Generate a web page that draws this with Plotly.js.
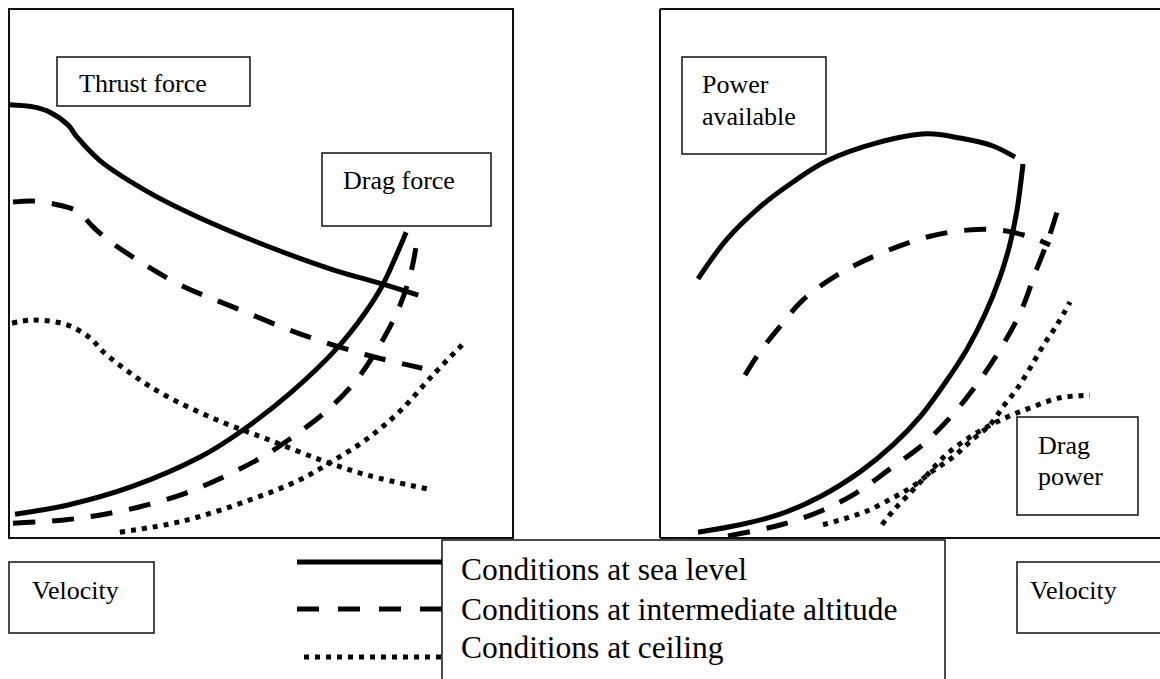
<!DOCTYPE html>
<html>
<head>
<meta charset="utf-8">
<script src="https://cdn.plot.ly/plotly-3.0.1.min.js"></script>
<style>html,body{margin:0;padding:0;background:#fff;}#chart{width:1160px;height:679px;}</style>
</head>
<body>
<div id="chart"></div>
<script>
// ---------- DATA (arbitrary units: velocity 0-100, force/power 0-100) ----------
// Left panel: thrust & drag force vs velocity
const thrustSeaX   = [0, 4.8, 8.1, 11.7, 13.5, 18.1, 28.0, 37.9, 51.2, 64.3, 74.2, 81.2];
const thrustSeaY   = [81.9, 81.5, 80.5, 78.1, 75.8, 71.3, 65.2, 60.5, 55.2, 50.7, 48.0, 45.9];
const thrustMidX   = [0.8, 4.8, 9.1, 13.5, 16.7, 20.0, 27.4, 34.5, 44.4, 57.7, 71.0, 82.0];
const thrustMidY   = [63.5, 63.7, 63.1, 61.8, 58.8, 56.1, 51.4, 47.6, 43.7, 38.6, 34.6, 32.1];
const thrustCeilX  = [0.6, 4.8, 11.5, 16.1, 18.7, 24.6, 31.3, 41.3, 51.2, 62.3, 71.0, 82.9];
const thrustCeilY  = [40.6, 41.2, 40.3, 37.8, 35.2, 30.8, 26.8, 22.3, 18.7, 14.6, 11.9, 9.3];
const dragSeaX     = [1.2, 11.5, 24.6, 37.9, 45.8, 55.8, 65.1, 70.6, 74.0, 76.6, 78.8];
const dragSeaY     = [4.5, 6.2, 9.8, 15.3, 20.0, 27.4, 35.9, 42.5, 47.6, 52.9, 57.8];
const dragMidX     = [0.8, 10.9, 19.0, 27.2, 35.1, 42.9, 50.2, 56.9, 63.7, 69.2, 73.6, 77.2, 79.6, 80.8, 81.0];
const dragMidY     = [2.8, 3.4, 4.5, 6.2, 8.5, 11.7, 15.3, 19.5, 24.6, 30.2, 36.5, 43.1, 49.7, 55.4, 57.8];
const dragCeilX    = [22.0, 34.5, 47.8, 57.7, 64.3, 71.0, 77.6, 84.1, 89.9];
const dragCeilY    = [1.1, 3.2, 7.2, 11.0, 14.6, 18.7, 24.0, 30.8, 36.5];
// Right panel: power available & drag power vs velocity
const powSeaX      = [7.6, 13.4, 20.0, 26.6, 33.4, 43.4, 53.4, 60.0, 66.6, 71.0];
const powSeaY      = [49.0, 56.5, 62.6, 67.3, 71.3, 74.7, 76.4, 75.6, 74.1, 72.0];
const powMidX      = [17.0, 20.0, 23.4, 28.6, 35.4, 43.4, 53.4, 61.4, 68.0, 73.4, 78.0];
const powMidY      = [30.8, 35.2, 39.3, 45.0, 49.7, 53.5, 56.9, 58.2, 58.2, 57.1, 55.4];
const powCeilX     = [44.4, 46.6, 49.4, 53.4, 57.4, 61.4, 65.4, 70.0, 74.6, 80.0, 86.0];
const powCeilY     = [2.5, 5.1, 7.9, 11.9, 15.9, 18.7, 21.0, 23.1, 24.8, 26.5, 27.0];
const dpowSeaX     = [7.6, 16.0, 24.0, 32.0, 40.0, 46.6, 52.0, 57.0, 61.4, 65.0, 68.0, 70.0, 71.4, 72.6];
const dpowSeaY     = [1.1, 2.5, 4.5, 7.8, 12.5, 17.6, 22.9, 29.3, 35.7, 42.3, 49.3, 55.6, 62.0, 70.7];
const dpowMidX     = [13.6, 24.2, 32.2, 39.2, 46.2, 53.0, 58.6, 63.4, 68.2, 72.2, 75.2, 77.6, 79.4];
const dpowMidY     = [0.4, 2.5, 5.1, 8.5, 13.2, 18.0, 23.4, 29.1, 35.9, 42.9, 50.5, 56.3, 61.6];
const dpowCeilX    = [32.6, 37.4, 41.4, 46.6, 50.6, 54.6, 58.6, 62.6, 66.0, 68.6, 71.4, 74.0, 76.6, 79.4, 82.0];
const dpowCeilY    = [2.5, 3.8, 5.1, 7.6, 9.8, 12.7, 15.3, 18.7, 21.4, 24.8, 28.2, 32.1, 36.3, 40.3, 44.6];
// Labels
const curveLabels  = ["Thrust force", "Drag force", "Power", "available", "Drag", "power"];
const axisLabel    = "Velocity";
const legendLabels = ["Conditions at sea level", "Conditions at intermediate altitude", "Conditions at ceiling"];

// ---------- STYLE ----------
const W = 1160, H = 679;
const px = x => x / W, py = y => 1 - y / H;
const SERIF = "Liberation Serif, Times New Roman, serif";
const styles = {
  sea:  {color: "#000", width: 5, dash: "solid"},
  mid:  {color: "#000", width: 5, dash: "22px,17px"},
  ceil: {color: "#000", width: 5, dash: "5px,6px"}
};
function tr(x, y, st, ax) {
  return {x, y, type: "scatter", mode: "lines", xaxis: ax[0], yaxis: ax[1],
    line: Object.assign({shape: "spline", smoothing: 1}, st), hoverinfo: "skip", showlegend: false};
}
const L = ["x", "y"], R = ["x2", "y2"];
const data = [
  tr(thrustSeaX, thrustSeaY, styles.sea, L),
  tr(thrustMidX, thrustMidY, styles.mid, L),
  tr(thrustCeilX, thrustCeilY, styles.ceil, L),
  tr(dragSeaX, dragSeaY, styles.sea, L),
  tr(dragMidX, dragMidY, styles.mid, L),
  tr(dragCeilX, dragCeilY, styles.ceil, L),
  tr(powSeaX, powSeaY, styles.sea, R),
  tr(powMidX, powMidY, styles.mid, R),
  tr(powCeilX, powCeilY, styles.ceil, R),
  tr(dpowSeaX, dpowSeaY, styles.sea, R),
  tr(dpowMidX, dpowMidY, styles.mid, R),
  tr(dpowCeilX, dpowCeilY, styles.ceil, R)
];

const hidden = {visible: false, range: [0, 100], fixedrange: true};
const yDom = [py(538), py(9)];

function box(x0, y0, x1, y1, w) {
  return {type: "rect", xref: "paper", yref: "paper", x0: px(x0), x1: px(x1), y0: py(y1), y1: py(y0),
    line: {color: "#111", width: w || 1.5}, fillcolor: "rgba(0,0,0,0)", layer: "above"};
}
function seg(x0, y0, x1, y1, st) {
  return {type: "line", xref: "paper", yref: "paper", x0: px(x0), x1: px(x1), y0: py(y0), y1: py(y1),
    line: {color: st.color || "#111", width: st.width, dash: st.dash}};
}
const shapes = [
  box(9, 9, 513, 538, 2),
  seg(660, 9, 1165, 9, {width: 2}),
  seg(660, 9, 660, 538, {width: 2}),
  seg(660, 538, 1165, 538, {width: 2}),
  box(57, 57, 250, 106),
  box(322, 153, 491, 226),
  box(682, 57, 826, 154),
  box(1017, 417, 1138, 515),
  box(9, 562, 154, 633),
  box(1017, 562, 1175, 633),
  box(442, 540, 945, 700),
  seg(297, 562, 442, 562, {width: 5, dash: "solid", color: "#000"}),
  seg(297, 609, 442, 609, {width: 5, dash: "22px,19px", color: "#000"}),
  seg(304, 657, 442, 657, {width: 5, dash: "5px,6px", color: "#000"})
];

function txt(t, x, y, size) {
  return {text: t, xref: "paper", yref: "paper", x: px(x), y: py(y), xanchor: "left", yanchor: "middle",
    showarrow: false, font: {family: SERIF, size: size, color: "#000"}};
}
const annotations = [
  txt(curveLabels[0], 77, 83, 26),
  txt(curveLabels[1], 341, 181, 26),
  txt(curveLabels[2], 700, 84, 26),
  txt(curveLabels[3], 700, 116, 26),
  txt(curveLabels[4], 1036, 445, 26),
  txt(curveLabels[5], 1036, 477, 26),
  txt(axisLabel, 30, 590, 26),
  txt(axisLabel, 1028, 590, 26),
  txt(legendLabels[0], 459, 569, 31.5),
  txt(legendLabels[1], 459, 609, 31.5),
  txt(legendLabels[2], 459, 647, 31.5)
];

const layout = {
  width: W, height: H, margin: {l: 0, r: 0, t: 0, b: 0},
  paper_bgcolor: "#fff", plot_bgcolor: "rgba(0,0,0,0)", showlegend: false,
  xaxis: Object.assign({domain: [px(9), px(513)], anchor: "y"}, hidden),
  yaxis: Object.assign({domain: yDom, anchor: "x"}, hidden),
  xaxis2: Object.assign({domain: [px(660), 1], anchor: "y2"}, hidden),
  yaxis2: Object.assign({domain: yDom, anchor: "x2"}, hidden),
  shapes, annotations
};
Plotly.newPlot("chart", data, layout, {staticPlot: true, displayModeBar: false});
</script>
</body>
</html>
